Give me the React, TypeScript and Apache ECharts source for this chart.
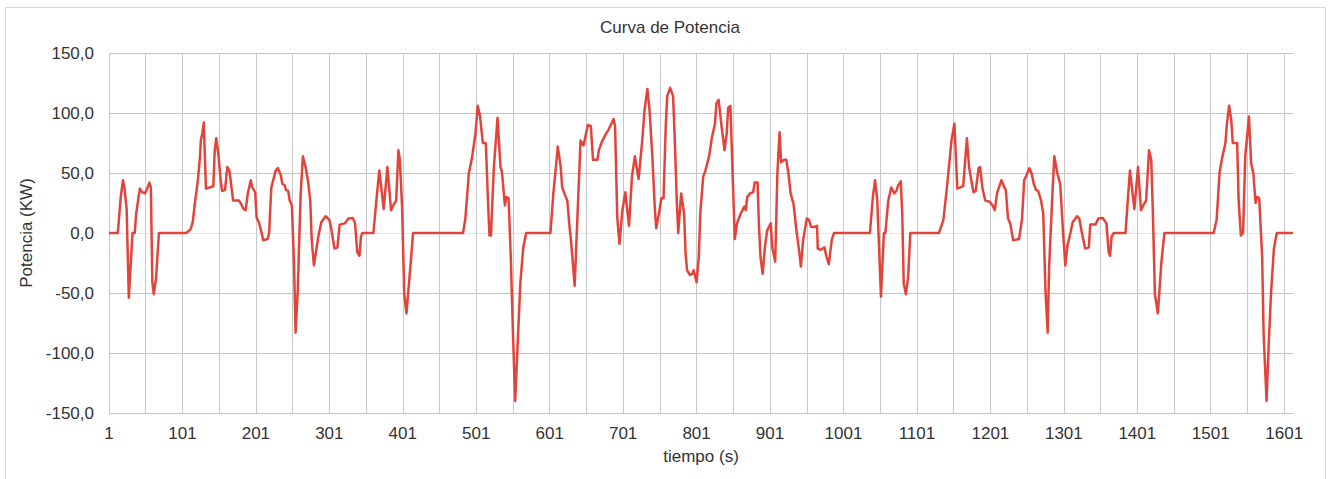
import React, { useEffect, useRef } from "react";
import * as echarts from "echarts";

// tiempo (s) and potencia (kW)
const tiempo: number[] = [
  1, 13, 17, 20, 22, 25, 28, 33, 36, 38, 43, 46, 50, 53, 56, 58, 60, 62, 65, 69,
  106, 112, 115, 118, 122, 125, 126, 128, 130, 133, 143, 145, 147, 150, 153, 155, 159, 162, 165, 170,
  178, 181, 184, 187, 190, 194, 196, 200, 202, 205, 208, 211, 217, 219, 222, 225, 228, 231, 235, 237,
  240, 242, 245, 247, 250, 253, 255, 258, 260, 262, 265, 269, 272, 275, 277, 280, 283, 286, 290, 296,
  301, 304, 308, 312, 315, 322, 327, 333, 336, 339, 342, 344, 346, 361, 365, 369, 375, 380, 385, 388,
  392, 395, 397, 400, 403, 406, 412, 415,
  483, 486, 491, 495, 500, 503, 506, 510, 514, 517, 519, 521, 525, 530, 534, 536, 540, 542, 545, 548,
  551, 554, 557, 561, 565, 569, 602, 606, 609, 612, 616, 618, 621, 625, 628, 630, 635, 638, 643, 647,
  653, 657, 660, 666, 668, 672, 677, 681, 688, 690, 693, 696, 700, 704, 709, 713, 717, 722, 727, 730,
  734, 737, 741, 744, 746, 750, 753, 756, 759, 761, 765, 769, 771, 774, 776, 780, 784, 786, 788, 792,
  795, 797, 801, 804, 806, 810, 813, 818, 822, 826, 828, 831, 835, 839, 842, 844, 847, 850, 853, 856,
  861, 866, 868, 870, 874, 878, 880, 884, 886, 888, 891, 894, 897, 902, 904, 908, 911, 914, 916, 920,
  923, 926, 929, 933, 937, 941, 943, 946, 951, 954, 957, 961, 965, 966, 970, 975, 978, 981, 985, 988,
  1037,
  1041, 1044, 1047, 1052, 1056, 1058, 1062, 1066, 1070, 1073, 1075, 1079, 1081, 1083, 1086, 1089, 1092, 1131, 1137, 1141,
  1146, 1148, 1152, 1156, 1164, 1169, 1172, 1175, 1178, 1181, 1185, 1187, 1190, 1194, 1200, 1204, 1207, 1210, 1216, 1220,
  1222, 1225, 1228, 1232, 1240, 1244, 1247, 1250, 1254, 1257, 1260, 1263, 1266, 1270, 1273, 1276, 1279, 1281, 1285, 1288,
  1292, 1296, 1300, 1303, 1306, 1310, 1313, 1319, 1322, 1325, 1330, 1335, 1337, 1344, 1348, 1354, 1359, 1362, 1364, 1366,
  1369, 1385, 1388, 1391, 1397, 1402, 1406, 1410, 1413, 1417, 1420, 1422, 1425, 1429, 1434, 1438,
  1505, 1509, 1513, 1516, 1521, 1523, 1526, 1529, 1531, 1537, 1539, 1542, 1545, 1548, 1553, 1556, 1559, 1562, 1564, 1567,
  1571, 1573, 1577, 1580, 1583, 1587, 1591, 1613,
];

const potencia: number[] = [
  0, 0, 30, 44, 38, 20, -54, 0, 0, 16, 37, 34, 33, 37, 42, 38, -41, -51, -38, 0,
  0, 3, 9, 25, 44, 64, 77, 83, 92, 37, 39, 69, 79, 65, 44, 35, 36, 55, 52, 27,
  27, 24, 20, 19, 33, 44, 38, 34, 13, 9, 2, -6, -5, 0, 38, 45, 52, 54, 48, 41,
  40, 36, 35, 27, 23, -28, -83, -48, -6, 33, 64, 54, 43, 27, -6, -27, -15, -3, 9, 14,
  11, 2, -13, -12, 7, 8, 12, 12.5, 8, -16, -19, -3, 0, 0, 27, 52, 20, 55, 19, 23,
  27, 69, 61, 22, -51, -67, -23, 0,
  0, 11, 50, 62, 83, 106, 98, 75, 75, 27, -2, -2, 55, 96, 55, 51, 23, 30, 29, -20,
  -84, -140, -98, -42, -12, 0, 0, 33, 52, 72, 55, 38, 33, 27, 5, -6, -44, 2, 77, 73,
  90, 89, 61, 61, 69, 76, 82, 86, 95, 89, 13, -9, 19, 34, 6, 47, 64, 45, 77, 102,
  120, 102, 61, 22, 4, 17, 29, 29, 89, 114, 121, 114, 83, 27, 0, 33, 16, -17, -31, -35,
  -34, -31, -41, -20, 16, 47, 52, 64, 80, 91, 108, 111, 89, 69, 83, 104, 106, 50, -5, 8,
  16, 22, 19, 30, 33, 34, 42, 42, 5, -20, -34, -12, 2, 8, -12, -24, 50, 84, 59, 61,
  61, 50, 33, 24, 2, -17, -28, -6, 12, 11, 5, 5, 6, -13, -14, -12, -20, -26, -6, 0,
  0,
  30, 44, 27, -53, 0, 0, 27, 38, 33, 35, 39, 43, 16, -42, -51, -37, 0, 0, 11, 33,
  64, 77, 91, 37, 39, 79, 55, 44, 34, 35, 54, 55, 38, 27, 26, 23, 19, 33, 44, 38,
  36, 12, 8, -6, -5, 11, 44, 48, 54, 50, 41, 36, 35, 27, 16, -48, -83, -28, 27, 64,
  50, 41, 0, -27, -10, 0, 9, 14, 12, 2, -13, -12, 7, 7, 12, 12.5, 8, -16, -19, -3,
  0, 0, 27, 52, 20, 55, 19, 24, 27, 69, 61, 22, -51, -67, -23, 0,
  0, 11, 50, 61, 75, 91, 106, 94, 75, 75, 27, -2, 0, 64, 97, 58, 50, 25, 30, 29,
  -20, -84, -140, -92, -51, -13, 0, 0,
];

const yTicks: number[] = [-150, -100, -50, 0, 50, 100, 150];
const xLabelStep = 100; // labels 1, 101, 201, ...
const xGridStep = 50;

const FONT = "'Liberation Sans', Arial, sans-serif";

export default function App() {
  const ref = useRef<HTMLDivElement>(null);

  useEffect(() => {
    if (!ref.current) return;
    const chart = echarts.init(ref.current, undefined, { renderer: "svg" });
    const lastT = tiempo[tiempo.length - 1];
    const data = tiempo.map((t, i) => [t - 1, potencia[i]]);
    const gridColors = yTicks.map((v) => (v === 0 ? "#e6e6e6" : "#c4c4c4"));

    chart.setOption({
      animation: false,
      backgroundColor: "#ffffff",
      title: {
        text: "Curva de Potencia",
        left: 665,
        top: 14,
        textAlign: "center",
        textStyle: { fontFamily: FONT, fontSize: 17, fontWeight: "normal", color: "#333333" },
      },
      graphic: [
        {
          type: "rect",
          shape: { x: 5.5, y: 7.5, width: 1320, height: 480 },
          style: { fill: "none", stroke: "#d9d9d9", lineWidth: 1 },
          silent: true,
        },
      ],
      grid: { left: 109, right: 35, top: 53, bottom: 66, containLabel: false },
      xAxis: {
        type: "value",
        min: 0,
        max: lastT - 1,
        interval: xGridStep,
        name: "tiempo (s)",
        nameLocation: "middle",
        nameGap: 35,
        nameTextStyle: { fontFamily: FONT, fontSize: 17, color: "#333333" },
        axisLine: { show: false },
        axisTick: { show: false },
        axisLabel: {
          fontFamily: FONT,
          fontSize: 17,
          color: "#333333",
          margin: 12,
          showMaxLabel: false,
          formatter: (v: number) => (v % xLabelStep === 0 ? String(v + 1) : ""),
        },
        splitLine: { show: true, showMaxLine: false, lineStyle: { color: "#c8c8c8", width: 1 } },
      },
      yAxis: {
        type: "value",
        min: yTicks[0],
        max: yTicks[yTicks.length - 1],
        interval: 50,
        name: "Potencia (KW)",
        nameLocation: "middle",
        nameGap: 66,
        nameRotate: 90,
        nameTextStyle: { fontFamily: FONT, fontSize: 17, color: "#333333" },
        axisLine: { show: false },
        axisTick: { show: false },
        axisLabel: {
          fontFamily: FONT,
          fontSize: 17,
          color: "#333333",
          margin: 15,
          formatter: (v: number) => v.toFixed(1).replace(".", ","),
        },
        splitLine: { show: true, lineStyle: { color: gridColors, width: 1 } },
      },
      series: [
        {
          type: "line",
          data,
          showSymbol: false,
          symbol: "none",
          lineStyle: { color: "#e2433a", width: 2.5, join: "round" },
          itemStyle: { color: "#e2433a" },
        },
      ],
    });

    return () => chart.dispose();
  }, []);

  return (
    <div
      ref={ref}
      style={{ position: "fixed", left: 0, top: 0, width: 1328, height: 479, background: "#fff" }}
    />
  );
}
